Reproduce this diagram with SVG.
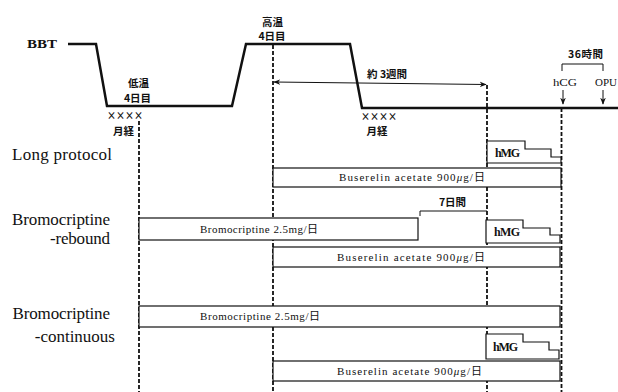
<svg xmlns="http://www.w3.org/2000/svg" width="618" height="392" viewBox="0 0 618 392">
<defs>
<marker id="ah" viewBox="0 0 10 10" refX="9" refY="5" markerWidth="7" markerHeight="7" orient="auto-start-reverse" markerUnits="userSpaceOnUse">
<path d="M0,1 L10,5 L0,9 L3,5 Z" fill="#111"/>
</marker>
<style>
.bbt{fill:none;stroke:#111;stroke-width:2.5;stroke-linejoin:miter}
.dash{fill:none;stroke:#111;stroke-width:1.8;stroke-dasharray:4 2}
.box{fill:#fff;stroke:#111;stroke-width:1.2}
.thin{fill:none;stroke:#111;stroke-width:1}
.lbl{font-family:"Liberation Serif","Noto Sans CJK JP",serif;font-size:17px;fill:#111}
.bt{font-family:"Liberation Serif","Noto Sans CJK JP",serif;font-size:11px;fill:#111}
.bold{font-family:"Liberation Serif","Noto Sans CJK JP",serif;font-size:12px;font-weight:bold;fill:#111}
.jp{font-family:"Noto Sans CJK JP",sans-serif;font-size:10.5px;font-weight:bold;fill:#111}
.mid{text-anchor:middle}
</style>
</defs>
<rect width="618" height="392" fill="#fff"/>

<g id="connectors">
<line class="dash" x1="139" y1="121" x2="139" y2="392"/>
<line class="dash" x1="273" y1="45" x2="273" y2="392"/>
<line class="dash" x1="487" y1="85" x2="487" y2="392"/>
<line class="dash" x1="561.5" y1="108" x2="561.5" y2="392"/>
<line class="thin" x1="274" y1="82" x2="486" y2="84.5" marker-start="url(#ah)" marker-end="url(#ah)"/>
<line class="thin" x1="563" y1="90" x2="563" y2="104" marker-end="url(#ah)"/>
<line class="thin" x1="603" y1="90" x2="603" y2="104" marker-end="url(#ah)"/>
<path class="thin" d="M562,71 V64 H603 V71"/>
<path class="thin" d="M420,216 V211 H487"/>
</g>

<g id="bbt">
<path class="bbt" d="M68,44 H96 L107,106 H232 L246,44 H350 L362,108 H618"/>
<text class="bold" x="27" y="48" font-size="11" textLength="30" lengthAdjust="spacingAndGlyphs">BBT</text>
<text class="jp mid" x="272.5" y="25.5" font-size="10">高温</text>
<text class="jp mid" x="272" y="40" font-size="10">4日目</text>
<text class="jp mid" x="138.5" y="87">低温</text>
<text class="jp mid" x="137.5" y="101.5">4日目</text>
<text class="jp" x="107" y="120" font-size="9.5" font-weight="normal" textLength="36" lengthAdjust="spacingAndGlyphs">××××</text>
<text class="jp mid" x="123.5" y="134.5">月経</text>
<text class="jp" x="361" y="121" font-size="9.5" font-weight="normal" textLength="36" lengthAdjust="spacingAndGlyphs">××××</text>
<text class="jp mid" x="377" y="135">月経</text>
<text class="jp" x="367" y="78">約 3週間</text>
<text class="jp" x="568" y="58" font-size="11" textLength="35">36時間</text>
<text class="bt" x="553" y="86" font-size="13" textLength="24" lengthAdjust="spacingAndGlyphs">hCG</text>
<text class="bt" x="595" y="86" font-size="13" textLength="22" lengthAdjust="spacingAndGlyphs">OPU</text>
</g>

<g id="long-protocol">
<text class="lbl" x="12" y="160" textLength="100">Long protocol</text>
<path class="box" d="M487,141 H525 V149 H551 V157 H561 V163 H487 Z"/>
<text class="bold" x="495" y="157" textLength="25">hMG</text>
<rect class="box" x="273" y="168" width="288" height="19"/>
<text class="bt" x="339" y="180.5" textLength="146">Buserelin acetate 900<tspan font-style="italic">μ</tspan>g/日</text>
</g>

<g id="bromocriptine-rebound">
<text class="lbl" x="12" y="224.5" font-size="14.5" textLength="98">Bromocriptine</text>
<text class="lbl" x="110" y="244" font-size="14.5" text-anchor="end" textLength="60">-rebound</text>
<rect class="box" x="139" y="218" width="279" height="22"/>
<text class="bt" x="200" y="232.5" textLength="118">Bromocriptine 2.5mg/日</text>
<text class="jp mid" x="452.5" y="206">7日間</text>
<path class="box" d="M486,220 H523 V228 H550 V235 H560 V243 H486 Z"/>
<text class="bold" x="494" y="236" textLength="26">hMG</text>
<rect class="box" x="273" y="247" width="287" height="20"/>
<text class="bt" x="337" y="260.5" textLength="148">Buserelin acetate 900<tspan font-style="italic">μ</tspan>g/日</text>
</g>

<g id="bromocriptine-continuous">
<text class="lbl" x="12.5" y="319" textLength="97.5">Bromocriptine</text>
<text class="lbl" x="115" y="342" text-anchor="end">-continuous</text>
<rect class="box" x="139" y="306" width="421" height="21"/>
<text class="bt" x="200" y="320" textLength="120">Bromocriptine 2.5mg/日</text>
<path class="box" d="M486,334 H523 V342 H549 V350 H559 V359 H486 Z"/>
<text class="bold" x="493" y="351" textLength="25">hMG</text>
<rect class="box" x="273" y="361" width="287" height="20"/>
<text class="bt" x="337" y="374.5" textLength="145">Buserelin acetate 900<tspan font-style="italic">μ</tspan>g/日</text>
</g>
</svg>
